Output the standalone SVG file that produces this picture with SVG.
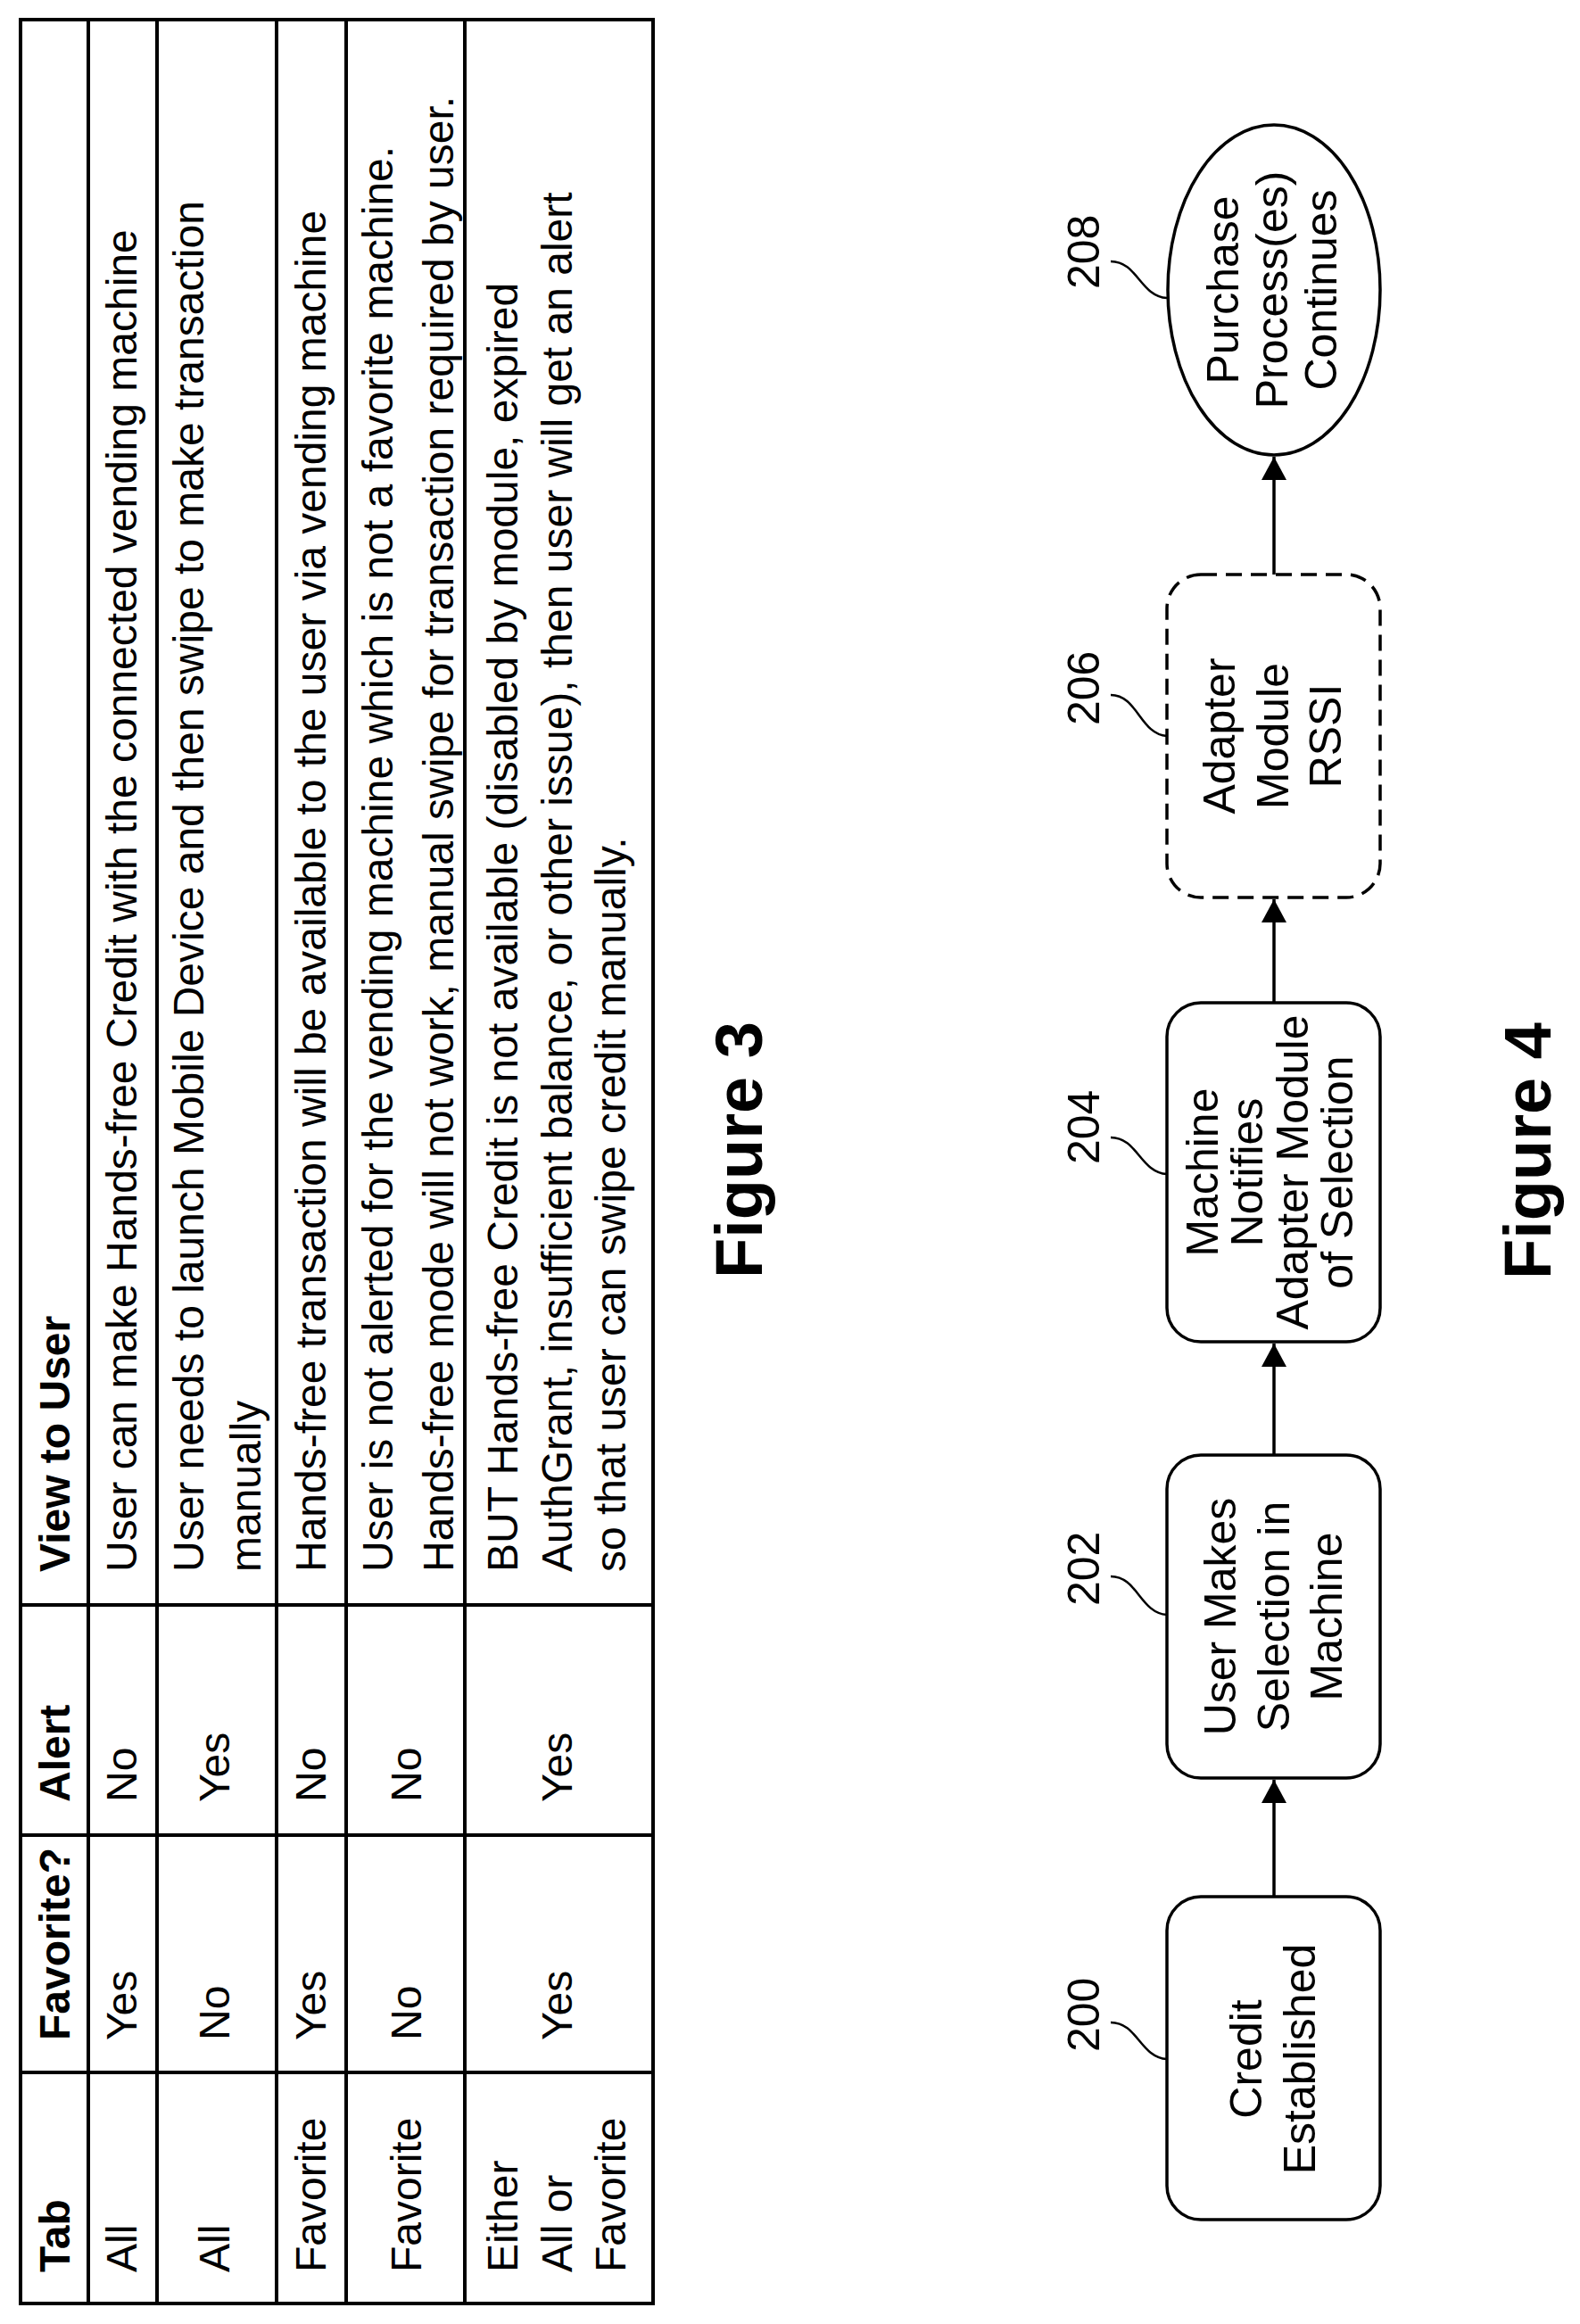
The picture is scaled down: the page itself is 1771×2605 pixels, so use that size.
<svg xmlns="http://www.w3.org/2000/svg" width="1771" height="2605" viewBox="0 0 1771 2605">
<style>
text{font-family:"Liberation Sans",Arial,sans-serif;fill:#000}
.t{font-size:48px}
.h{font-size:48px;font-weight:bold}
.fig{font-size:74px;font-weight:bold}
.b{font-size:50px;text-anchor:middle}
.ref{font-size:50px}
.tl{stroke:#000;stroke-width:4;fill:none}
.box{stroke:#000;stroke-width:3.5;fill:#fff}
.lead{stroke:#000;stroke-width:2.5;fill:none}
.con{stroke:#000;stroke-width:3.5;fill:none}
</style>
<defs>
<marker id="ah" markerUnits="userSpaceOnUse" markerWidth="30" markerHeight="30" refX="26" refY="14" orient="auto">
<path d="M0,0 L26,14 L0,28 Z" fill="#000"/>
</marker>
</defs>
<rect width="1771" height="2605" fill="#fff"/>
<g id="table">
<rect class="tl" x="23" y="22" width="709" height="2560"/>
<line class="tl" x1="99" y1="22" x2="99" y2="2582"/>
<line class="tl" x1="176" y1="22" x2="176" y2="2582"/>
<line class="tl" x1="310" y1="22" x2="310" y2="2582"/>
<line class="tl" x1="388" y1="22" x2="388" y2="2582"/>
<line class="tl" x1="521" y1="22" x2="521" y2="2582"/>
<line class="tl" x1="23" y1="1799" x2="732" y2="1799"/>
<line class="tl" x1="23" y1="2057" x2="732" y2="2057"/>
<line class="tl" x1="23" y1="2323" x2="732" y2="2323"/>
<g transform="rotate(-90)">
<text class="h" x="-2547" y="78">Tab</text>
<text class="h" x="-2287" y="78">Favorite?</text>
<text class="h" x="-2020" y="78">Alert</text>
<text class="h" x="-1762" y="78">View to User</text>
<text class="t" x="-2547" y="153">All</text>
<text class="t" x="-2287" y="153">Yes</text>
<text class="t" x="-2020" y="153">No</text>
<text class="t" x="-1762" y="153">User can make Hands-free Credit with the connected vending machine</text>
<text class="t" x="-2547" y="257">All</text>
<text class="t" x="-2287" y="257">No</text>
<text class="t" x="-2020" y="257">Yes</text>
<text class="t" x="-1762" y="228">User needs to launch Mobile Device and then swipe to make transaction<tspan x="-1762" y="292">manually</tspan></text>
<text class="t" x="-2547" y="365">Favorite</text>
<text class="t" x="-2287" y="365">Yes</text>
<text class="t" x="-2020" y="365">No</text>
<text class="t" x="-1762" y="365">Hands-free transaction will be available to the user via vending machine</text>
<text class="t" x="-2547" y="472">Favorite</text>
<text class="t" x="-2287" y="472">No</text>
<text class="t" x="-2020" y="472">No</text>
<text class="t" x="-1762" y="440">User is not alerted for the vending machine which is not a favorite machine.<tspan x="-1762" y="508">Hands-free mode will not work, manual swipe for transaction required by user.</tspan></text>
<text class="t" x="-2547" y="580">Either<tspan x="-2547" y="641">All or</tspan><tspan x="-2547" y="701">Favorite</tspan></text>
<text class="t" x="-2287" y="641">Yes</text>
<text class="t" x="-2020" y="641">Yes</text>
<text class="t" x="-1762" y="580">BUT Hands-free Credit is not available (disabled by module, expired<tspan x="-1762" y="641">AuthGrant, insufficient balance, or other issue), then user will get an alert</tspan><tspan x="-1762" y="701">so that user can swipe credit manually.</tspan></text>
<text class="fig" x="-1433" y="854">Figure 3</text>
<text class="fig" x="-1434" y="1738">Figure 4</text>
</g>
</g>
<g id="connectors">
<line class="con" x1="1428" y1="2126" x2="1428" y2="1995" marker-end="url(#ah)"/>
<line class="con" x1="1428" y1="1631" x2="1428" y2="1506" marker-end="url(#ah)"/>
<line class="con" x1="1428" y1="1124" x2="1428" y2="1008" marker-end="url(#ah)"/>
<line class="con" x1="1428" y1="644" x2="1428" y2="512" marker-end="url(#ah)"/>
</g>
<g id="n200">
<rect class="box" x="1308" y="2126" width="239" height="362" rx="38"/>
<g transform="rotate(-90)"><text class="b" x="-2308" y="1414">Credit<tspan x="-2308" y="1474">Established</tspan></text>
<text class="ref" x="-2300" y="1232">200</text></g>
<path class="lead" d="M1245,2267 C1275,2267 1278,2306 1308,2308"/>
</g>
<g id="n202">
<rect class="box" x="1308" y="1631" width="239" height="362" rx="38"/>
<g transform="rotate(-90)"><text class="b" x="-1812" y="1385">User Makes<tspan x="-1812" y="1445">Selection in</tspan><tspan x="-1812" y="1504">Machine</tspan></text>
<text class="ref" x="-1800" y="1232">202</text></g>
<path class="lead" d="M1245,1767 C1275,1767 1278,1808 1308,1810"/>
</g>
<g id="n204">
<rect class="box" x="1308" y="1124" width="239" height="380" rx="38"/>
<g transform="rotate(-90)"><text class="b" x="-1314" y="1365">Machine<tspan x="-1314" y="1415">Notifies</tspan><tspan x="-1314" y="1466">Adapter Module</tspan><tspan x="-1314" y="1516">of Selection</tspan></text>
<text class="ref" x="-1305" y="1232">204</text></g>
<path class="lead" d="M1245,1275 C1275,1275 1278,1314 1308,1316"/>
</g>
<g id="n206">
<rect class="box" x="1308" y="644" width="239" height="362" rx="38" stroke-dasharray="18 10"/>
<g transform="rotate(-90)"><text class="b" x="-825" y="1384">Adapter<tspan x="-825" y="1444">Module</tspan><tspan x="-825" y="1503">RSSI</tspan></text>
<text class="ref" x="-813" y="1232">206</text></g>
<path class="lead" d="M1245,779 C1275,779 1278,823 1308,825"/>
</g>
<g id="n208">
<ellipse class="box" cx="1428" cy="325" rx="119" ry="185"/>
<g transform="rotate(-90)"><text class="b" x="-325" y="1388">Purchase<tspan x="-325" y="1443">Process(es)</tspan><tspan x="-325" y="1498">Continues</tspan></text>
<text class="ref" x="-324" y="1232">208</text></g>
<path class="lead" d="M1245,293 C1275,293 1278,332 1308,334"/>
</g>
</svg>
